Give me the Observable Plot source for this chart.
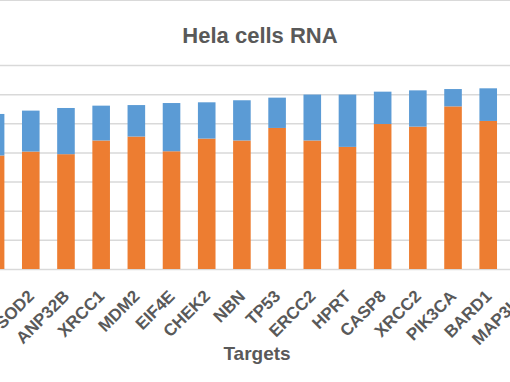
<!DOCTYPE html>
<html>
<head>
<meta charset="utf-8">
<script src="https://cdn.jsdelivr.net/npm/d3@7"></script>
<script src="https://cdn.jsdelivr.net/npm/@observablehq/plot@0.6"></script>
<style>
  html, body { margin: 0; padding: 0; background: #fff; }
  #frame { position: relative; width: 510px; height: 382px; overflow: hidden; background: #fff; border-top: 1px solid #d9d9d9; box-sizing: border-box; }
  #chart { position: absolute; left: -60px; top: -1px; width: 621px; height: 383px; }
  #chart svg { max-width: none !important; width: 621px; height: 383px; }
  .ttl { position: absolute; font-family: "Liberation Sans", Arial, sans-serif; font-weight: bold; color: #595959; white-space: nowrap; text-align: center; }
</style>
</head>
<body>
<div id="frame">
  <div id="chart"></div>
  <div class="ttl" id="title" style="left:160px; width:200px; top:24px; font-size:22px; line-height:22px;">Hela cells RNA</div>
  <div class="ttl" id="xlabel" style="left:157px; width:200px; top:343px; font-size:19px; line-height:19px;">Targets</div>
</div>
<script>
// Categories (the first and last are partly outside the cropped view)
const categories = ["GAPDH", "SOD2", "ANP32B", "XRCC1", "MDM2", "EIF4E", "CHEK2", "NBN", "TP53", "ERCC2", "HPRT", "CASP8", "XRCC2", "PIK3CA", "BARD1", "MAP3K1"];
// Lower (orange) series
const lowerValues = [77.9, 80.6, 78.8, 88.2, 90.9, 80.8, 89.5, 88.2, 96.8, 88.2, 83.8, 99.5, 97.7, 111.6, 101.6, 100.0];
// Upper (blue) series stacked on top
const upperValues = [28.5, 28.1, 31.7, 23.9, 21.6, 33.1, 24.9, 27.6, 20.8, 31.5, 35.9, 22.2, 24.9, 11.9, 22.4, 26.0];
const seriesNames = ["Series 1", "Series 2"];
const seriesColors = ["#ED7D31", "#5B9BD5"];
const yTicks = [0, 20, 40, 60, 80, 100, 120, 140];

const rows = [];
categories.forEach((c, i) => rows.push({target: c, series: seriesNames[0], value: lowerValues[i]}));
categories.forEach((c, i) => rows.push({target: c, series: seriesNames[1], value: upperValues[i]}));

const chart = Plot.plot({
  width: 621,
  height: 383,
  marginLeft: 38,
  marginRight: 20,
  marginTop: 65,
  marginBottom: 114,
  style: {fontFamily: "'Liberation Sans', Arial, sans-serif", fontSize: "17px", fontWeight: "bold", color: "#595959", background: "transparent", maxWidth: "none"},
  x: {domain: categories, paddingInner: 0.5, paddingOuter: 0.25, round: false, label: null, axis: null},
  y: {domain: [0, 140], axis: null},
  color: {domain: seriesNames, range: seriesColors},
  marks: [
    Plot.ruleY(yTicks, {stroke: "#d9d9d9", strokeWidth: 1.5}),
    Plot.barY(rows, Plot.stackY({x: "target", y: "value", fill: "series", order: null})),
    Plot.axisX({tickRotate: -45, tickSize: 0, tickPadding: 24, label: null, fill: "#595959"})
  ]
});
document.getElementById("chart").appendChild(chart);
</script>
</body>
</html>
